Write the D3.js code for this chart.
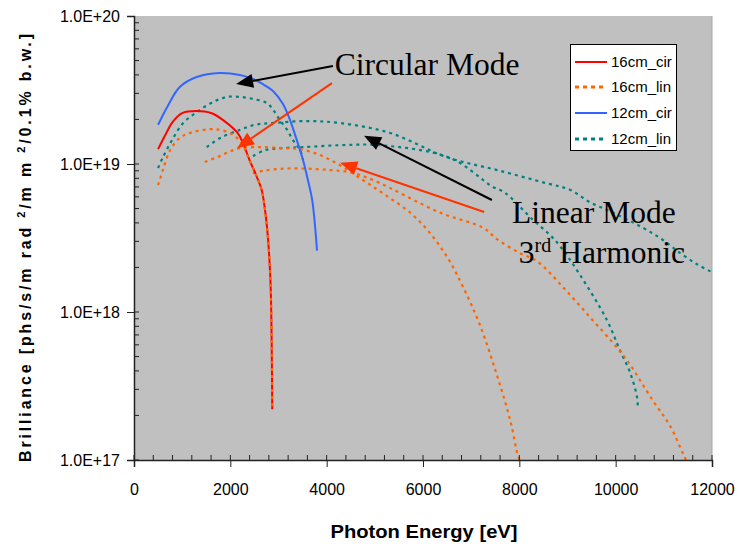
<!DOCTYPE html>
<html>
<head>
<meta charset="utf-8">
<script src="https://cdn.jsdelivr.net/npm/d3@7"></script>
<style>
  html, body { margin: 0; padding: 0; background: #ffffff; }
  svg { display: block; }
</style>
</head>
<body>
<svg id="chart" width="740" height="550"></svg>
<script>
// ---------------- DATA ----------------
const xTickValues = [0, 2000, 4000, 6000, 8000, 10000, 12000];
const yTickValues = [1e17, 1e18, 1e19, 1e20];
const yTickLabels = ["1.0E+17", "1.0E+18", "1.0E+19", "1.0E+20"];
const legendLabels = ["16cm_cir", "16cm_lin", "12cm_cir", "12cm_lin"];

// 16cm circular (red, solid)
const cir16 = [[500,1.26e19],[650,1.57e19],[800,1.92e19],[1000,2.21e19],[1300,2.28e19],[1600,2.21e19],
  [1850,1.98e19],[2150,1.62e19],[2260,1.39e19],[2400,1.06e19],[2550,8.2e18],[2650,6.7e18],[2720,4.9e18],
  [2780,3.2e18],[2820,2.0e18],[2840,1.4e18],[2860,5.5e17],[2870,2.2e17]];
// 12cm circular (blue, solid)
const cir12 = [[500,1.84e19],[690,2.43e19],[950,3.31e19],[1300,3.87e19],[1780,4.12e19],[2200,3.99e19],
  [2470,3.75e19],[2650,3.5e19],[2890,3.1e19],[3090,2.55e19],[3240,1.98e19],[3380,1.45e19],[3510,1.06e19],
  [3610,7.8e18],[3700,5.7e18],[3800,2.6e18]];
// 16cm linear (orange, dotted): fundamental and two 3rd-harmonic branches
const lin16Fund = [[500,7.2e18],[600,9.1e18],[750,1.24e19],[950,1.5e19],[1160,1.62e19],[1580,1.72e19],
  [1790,1.7e19],[1990,1.62e19],[2140,1.5e19],[2260,1.34e19],[2400,1.06e19],[2550,8.2e18],[2650,6.7e18],
  [2720,4.9e18],[2780,3.2e18],[2820,2.0e18],[2840,1.4e18],[2860,5.5e17],[2870,2.2e17]];
const lin16HarmA = [[1470,1.03e19],[1720,1.11e19],[1930,1.19e19],[2200,1.28e19],[2620,1.3e19],[3090,1.28e19],
  [3450,1.26e19],[3860,1.15e19],[4280,9.8e18],[4750,7.8e18],[5210,6.2e18],[5730,4.7e18],[6150,3.4e18],
  [6520,2.3e18],[6830,1.48e18],[7180,8.2e17],[7540,3.7e17],[7810,1.86e17],[7970,1.07e17],[8010,1.0e17]];
const lin16HarmB = [[2470,8.7e18],[2680,9.0e18],[3090,9.3e18],[3590,9.3e18],[4070,9.1e18],[4480,8.8e18],
  [4960,7.8e18],[6350,4.7e18],[7250,3.7e18],[7540,3.1e18],[8010,2.5e18],[8370,2.2e18],[8900,1.48e18],
  [9470,9.2e17],[9940,6.2e17],[10240,4.7e17],[10780,2.5e17],[11130,1.7e17],[11400,1.1e17],[11460,1.0e17]];
// 12cm linear (teal, dotted): fundamental and two 3rd-harmonic branches
const lin12Fund = [[500,9.4e18],[600,1.11e19],[790,1.45e19],[1020,1.89e19],[1310,2.25e19],[1640,2.62e19],
  [1930,2.84e19],[2200,2.84e19],[2470,2.75e19],[2760,2.58e19],[2890,2.32e19],[3030,1.98e19],[3180,1.7e19],
  [3300,1.45e19],[3450,1.24e19],[3510,1.06e19]];
const lin12HarmA = [[1510,1.3e19],[1790,1.5e19],[2200,1.7e19],[2510,1.84e19],[2870,1.89e19],[3590,1.95e19],
  [4280,1.89e19],[5320,1.62e19],[6500,1.11e19],[7540,9.1e18],[8570,7.4e18],[9050,6.7e18],[9470,5.5e18],
  [9940,4.7e18],[10570,3.7e18],[10960,3.1e18],[11340,2.5e18],[11690,2.1e18],[12000,1.86e18]];
const lin12HarmB = [[2470,1.13e19],[2720,1.24e19],[3090,1.28e19],[3510,1.3e19],[4280,1.34e19],[5110,1.34e19],
  [6560,1.1e19],[7450,7.0e18],[7700,6.4e18],[8280,4.2e18],[8600,3.4e18],[8840,2.8e18],[9260,1.78e18],
  [9820,8.8e17],[10090,5.5e17],[10300,3.9e17],[10440,2.7e17],[10460,2.3e17]];

// Annotations (in data units: [eV, brilliance])
const annotTexts = ["Circular Mode", "Linear Mode", "Harmonic"];
const arrowsData = [
  {from:[4130,4.59e19], to:[2120,3.47e19], color:"#000000"},
  {from:[4110,3.52e19], to:[2140,1.28e19], color:"#ff3300"},
  {from:[7430,5.71e18], to:[4775,1.55e19], color:"#000000"},
  {from:[7270,4.74e18], to:[4280,1.02e19], color:"#ff3300"}
];

// ---------------- CHART ----------------
const svg = d3.select("#chart");
const pL = 134, pR = 712, pT = 16, pB = 460;
const x = d3.scaleLinear().domain([0, 12000]).range([pL, pR]);
const y = d3.scaleLog().domain([1e17, 1e20]).range([pB, pT]);

svg.append("defs").append("clipPath").attr("id", "clip")
  .append("rect").attr("x", pL).attr("y", pT).attr("width", pR - pL).attr("height", pB - pT);

// plot background
svg.append("rect").attr("x", pL).attr("y", pT).attr("width", pR - pL).attr("height", pB - pT)
  .attr("fill", "#c0c0c0");
svg.append("line").attr("x1", pR).attr("x2", pR).attr("y1", pT).attr("y2", pB)
  .attr("stroke", "#a8a8a8").attr("stroke-width", 1);

const line = d3.line().x(d => x(d[0])).y(d => y(d[1])).curve(d3.curveCatmullRom.alpha(0.5));
const g = svg.append("g").attr("clip-path", "url(#clip)");

const seriesStyles = {
  cir16: {color:"#ff0000", dash:null, w:2},
  lin16: {color:"#ff6600", dash:"3,4", w:2.2},
  cir12: {color:"#3366ff", dash:null, w:2},
  lin12: {color:"#008080", dash:"3,4", w:2.2}
};
const curves = [
  [lin12Fund, "lin12"], [lin12HarmA, "lin12"], [lin12HarmB, "lin12"],
  [lin16HarmA, "lin16"], [lin16HarmB, "lin16"],
  [cir12, "cir12"], [cir16, "cir16"], [lin16Fund, "lin16"]
];
curves.forEach(([data, key]) => {
  const s = seriesStyles[key];
  g.append("path").datum(data).attr("d", line)
    .attr("fill", "none").attr("stroke", s.color).attr("stroke-width", s.w)
    .attr("stroke-dasharray", s.dash).attr("stroke-linejoin", "round");
});

// axes
const font = "'Liberation Sans', Arial, sans-serif";
const yAxis = svg.append("g").attr("transform", `translate(${pL},0)`)
  .call(d3.axisLeft(y).tickValues(yTickValues).tickFormat((d, i) => yTickLabels[i]).tickSize(7).tickPadding(7));
const xAxis = svg.append("g").attr("transform", `translate(0,${pB})`)
  .call(d3.axisBottom(x).tickValues(xTickValues).tickFormat(d => String(d)).tickSize(7).tickPadding(17));
[yAxis, xAxis].forEach(a => {
  a.select(".domain").attr("stroke", "#222").attr("stroke-width", 1.5);
  a.selectAll(".tick line").attr("stroke", "#222");
  a.selectAll("text").attr("font-family", font).attr("font-size", 16).attr("fill", "#000");
});

// inner ticks: y minor (log 2..9) and majors, x minor every 400
const yMinor = [];
for (let e = 17; e < 20; e++) for (let m = 1; m <= 9; m++) yMinor.push(m * Math.pow(10, e));
svg.append("g").selectAll("line").data(yMinor).join("line")
  .attr("x1", pL).attr("x2", pL + 5).attr("y1", d => y(d)).attr("y2", d => y(d))
  .attr("stroke", "#222").attr("stroke-width", 1);
svg.append("g").selectAll("line").data(d3.range(0, 12001, 400)).join("line")
  .attr("x1", d => x(d)).attr("x2", d => x(d)).attr("y1", pB).attr("y2", pB - 5)
  .attr("stroke", "#222").attr("stroke-width", 1);

// axis titles
svg.append("text").attr("x", 424).attr("y", 538).attr("text-anchor", "middle")
  .attr("font-family", font).attr("font-weight", "bold").attr("font-size", 18)
  .attr("textLength", 187).attr("lengthAdjust", "spacingAndGlyphs")
  .text("Photon Energy [eV]");
const yt = svg.append("text").attr("transform", "translate(31,462) rotate(-90)")
  .attr("font-family", font).attr("font-weight", "bold").attr("font-size", 16)
  .attr("textLength", 428).attr("lengthAdjust", "spacing");
yt.append("tspan").text("Brilliance [phs/s/m rad ");
yt.append("tspan").attr("dy", -6).attr("font-size", 11).text("2");
yt.append("tspan").attr("dy", 6).text("/m m ");
yt.append("tspan").attr("dy", -6).attr("font-size", 11).text("2");
yt.append("tspan").attr("dy", 6).text("/0.1% b.w.]");

// legend
const lg = svg.append("g");
lg.append("rect").attr("x", 570.5).attr("y", 44.5).attr("width", 106).attr("height", 106)
  .attr("fill", "#ffffff").attr("stroke", "#000").attr("stroke-width", 1);
const legendKeys = ["cir16", "lin16", "cir12", "lin12"];
const legendY = [62, 87, 113, 139];
legendLabels.forEach((lab, i) => {
  const s = seriesStyles[legendKeys[i]];
  lg.append("line").attr("x1", 575).attr("x2", 607).attr("y1", legendY[i]).attr("y2", legendY[i])
    .attr("stroke", s.color).attr("stroke-width", s.dash ? 3 : 2).attr("stroke-dasharray", s.dash ? "4,4" : null);
  lg.append("text").attr("x", 611).attr("y", legendY[i]).attr("dy", "0.35em")
    .attr("font-family", font).attr("font-size", 15).text(lab);
});

// arrows
arrowsData.forEach(a => {
  const x1 = x(a.from[0]), y1 = y(a.from[1]), x2 = x(a.to[0]), y2 = y(a.to[1]);
  const dx = x2 - x1, dy = y2 - y1, len = Math.hypot(dx, dy);
  const ux = dx / len, uy = dy / len, L = 17, Wd = 7;
  const bx = x2 - ux * L, by = y2 - uy * L;
  svg.append("line").attr("x1", x1).attr("y1", y1).attr("x2", bx).attr("y2", by)
    .attr("stroke", a.color).attr("stroke-width", 2);
  svg.append("path").attr("d", `M${x2},${y2}L${bx - uy * Wd},${by + ux * Wd}L${bx + uy * Wd},${by - ux * Wd}Z`)
    .attr("fill", a.color);
});

// annotation text
const serif = "'Liberation Serif', 'Times New Roman', serif";
svg.append("text").attr("x", x(4170)).attr("y", y(3.99e19)).attr("font-family", serif).attr("font-size", 31.5)
  .text(annotTexts[0]);
svg.append("text").attr("x", x(7850)).attr("y", y(3.99e18)).attr("font-family", serif).attr("font-size", 31.5)
  .text(annotTexts[1]);
const h = svg.append("text").attr("x", x(7990)).attr("y", y(2.14e18)).attr("font-family", serif).attr("font-size", 31.5);
h.append("tspan").text("3");
h.append("tspan").attr("dy", -11).attr("font-size", 20).text("rd");
h.append("tspan").attr("dy", 11).text(" " + annotTexts[2]);
</script>
</body>
</html>
